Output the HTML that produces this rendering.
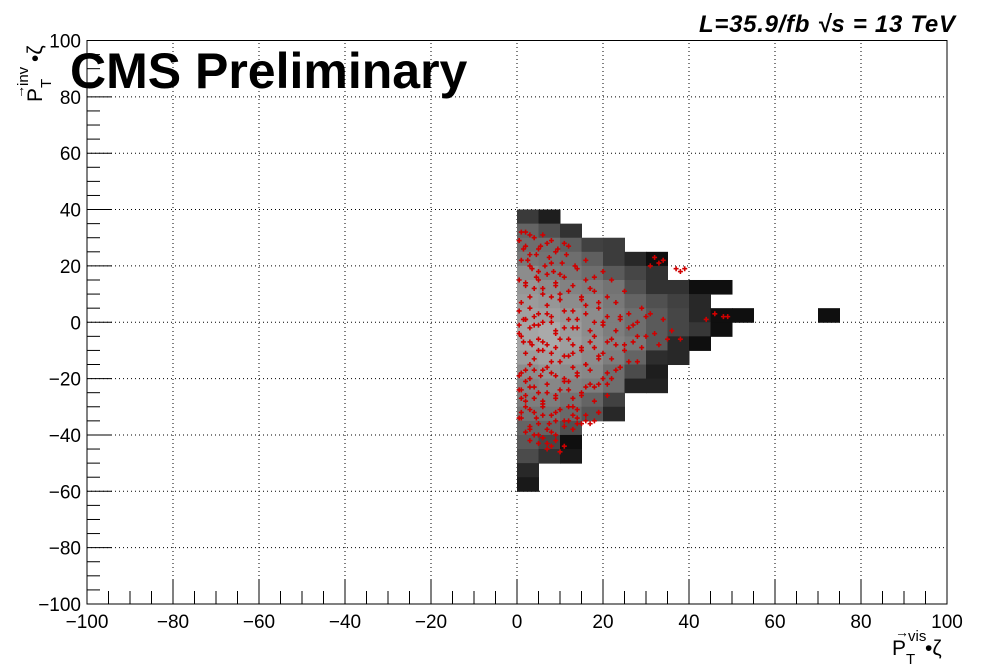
<!DOCTYPE html>
<html><head><meta charset="utf-8">
<style>
html,body{margin:0;padding:0;background:#fff;}
svg{display:block;font-family:"Liberation Sans",sans-serif;}
</style></head>
<body>
<svg id="chart" width="996" height="672" viewBox="0 0 996 672" xmlns="http://www.w3.org/2000/svg">
<rect width="996" height="672" fill="#fff"/>
<g id="grid"></g>
<g id="cells"></g>
<g id="pts"></g>
<rect x="87" y="40.5" width="860" height="563.5" fill="none" stroke="#000" stroke-width="1"/>
<g id="axes"></g>
<text x="70" y="88" font-size="50" font-weight="bold">CMS Preliminary</text>
<text x="955" y="32" text-anchor="end" font-size="24" font-weight="bold" font-style="italic" textLength="256">L=35.9/fb  √s = 13 TeV</text>
<g font-size="21">
<text x="892" y="655">P</text><text x="906" y="664" font-size="15">T</text><text x="908" y="641" font-size="15">vis</text>
<text x="895" y="637" font-size="14">→</text><text x="925" y="655">•ζ</text>
</g>
<g font-size="21" transform="translate(42,102) rotate(-90)">
<text x="0" y="0">P</text><text x="14" y="9" font-size="15">T</text><text x="16" y="-14" font-size="15">inv</text>
<text x="3" y="-18" font-size="14">→</text><text x="40" y="0">•ζ</text>
</g>
</svg>
<script>
const xCats=[0,5,10,15,20,25,30,35,40,45,50];
const yRows=[35,30,25,20,15,10,5,0,-5,-10,-15,-20,-25,-30,-35,-40,-45,-50,-55,-60];
const cellValues=[
[58,30],
[100,80,50],
[110,110,95,65,60],
[120,115,110,95,60,40,15],
[140,125,120,110,90,70,50],
[150,140,130,125,115,80,50,50,15,15],
[155,150,140,135,120,100,80,65,40],
[160,158,150,140,125,110,90,70,40,15,15],
[165,170,155,140,125,110,90,70,55,15],
[165,170,158,145,130,120,90,40,15],
[155,160,152,140,125,100,45,40],
[140,148,140,135,110,75,30],
[130,135,130,125,110,35,35],
[125,125,115,100,65],
[115,115,105,85,40],
[100,100,80],
[90,70,15],
[75,50,25],
[40],
[25]
];
const extraCells=[[70,0,15]];
const ptX=[1,2,3,4,6,8,2,3,5,7,9,11,12,1,3,5,8,10,14,16,18,20,2,4,6,9,12,15,17,22,25,1,3,5,7,10,13,16,19,23,26,29,2,4,6,8,11,14,17,20,24,27,31,34,1,3,5,7,9,12,15,18,21,25,28,32,36,38,2,4,6,8,11,13,16,19,22,24,28,1,3,6,9,12,14,17,20,23,1,2,4,7,9,12,15,18,21,2,4,6,8,10,13,16,19,1,3,5,7,9,11,14,3,5,6,7,8,9,10,1,2,4,6,12,14,15,16,32,33,34,31,37,38,39,44,46,48,49,8,10,5,13,
0.5,1.5,2.5,3.5,4.5,5.5,6.5,7.5,8.5,9.5,10.5,11.5,13.5,0.5,2,3,4.5,6,7,9,10,11,13,15,16,18,19,21,0.5,1.5,3,4,5,7,8,9,11,12,14,16,18,20,21,23,24,26,28,30,0.5,2,3.5,5,6,8,9,10,12,13,15,17,18,20,22,23,25,27,29,30,33,35,0.5,1.5,3,4,5.5,7,8,10,11,13,14,16,17,19,21,22,24,26,0.5,2,3,5,6,7,9,10,11,13,15,16,18,19,21,0.5,2,3,4.5,6,7.5,9,11,12,13,14,0.5,1,2,3,4,5,6,7,8,9,11,13,17,18,19];
const ptY=[32,32,31,30,31,29,27,24,26,28,25,28,27,22,20,18,21,17,19,22,16,18,14,12,10,13,11,9,12,15,11,7,5,3,6,8,4,6,5,7,3,5,1,-1,0,2,-2,1,-3,0,2,-1,3,1,-5,-7,-6,-8,-4,-6,-9,-5,-7,-8,-5,-4,-3,-6,-11,-13,-10,-14,-12,-11,-15,-12,-13,-16,-14,-18,-20,-17,-19,-21,-18,-22,-20,-17,-24,-26,-23,-25,-27,-24,-26,-23,-22,-30,-32,-29,-33,-31,-30,-33,-32,-34,-37,-36,-38,-35,-37,-36,-42,-40,-41,-43,-44,-40,-46,-27,-28,-27,-30,-35,-34,-36,-35,23,21,22,20,19,18,19,1,3,2,2,9,8,15,-2,
29,26,22,19,24,27,20,23,18,26,21,24,20,15,13,9,16,12,17,14,10,16,13,8,15,11,7,9,4,1,-2,2,-1,3,0,-3,4,1,-2,3,0,-1,2,-3,1,-2,0,2,-1,1,-8,-10,-7,-11,-9,-6,-12,-8,-10,-7,-9,-11,-6,-8,-10,-7,-9,-5,-8,-6,-4,-7,-15,-17,-19,-16,-18,-14,-20,-16,-19,-15,-17,-13,-18,-20,-16,-14,-19,-17,-23,-25,-28,-22,-26,-24,-21,-27,-25,-23,-28,-22,-26,-24,-21,-31,-34,-33,-36,-32,-35,-30,-33,-31,-34,-32,-39,-38,-40,-43,-41,-45,-39,-42,-44,-38,-36,-35,-32,-34,-33];
const xTicks=[-100,-80,-60,-40,-20,0,20,40,60,80,100];
const yTicks=[-100,-80,-60,-40,-20,0,20,40,60,80,100];
const NS="http://www.w3.org/2000/svg";
const X0=87,X1=947,Y0=604,Y1=40.5;
function sx(v){return X0+(v+100)/200*(X1-X0);}
function sy(v){return Y0-(v+100)/200*(Y0-Y1);}
function mk(tag,attrs,parent){const e=document.createElementNS(NS,tag);for(const k in attrs)e.setAttribute(k,attrs[k]);parent.appendChild(e);return e;}
const grid=document.getElementById('grid'),cells=document.getElementById('cells'),pts=document.getElementById('pts'),axes=document.getElementById('axes');
xTicks.forEach(t=>{if(t>-100&&t<100){const l=mk('line',{x1:sx(t),x2:sx(t),y1:Y0,y2:Y1,stroke:'#000','stroke-dasharray':'1,3'},grid);

}});
yTicks.forEach(t=>{if(t>-100&&t<100){const l=mk('line',{x1:X0,x2:X1,y1:sy(t),y2:sy(t),stroke:'#000','stroke-dasharray':'1,3'},grid);

}});
const cw=sx(5)-sx(0),ch=sy(0)-sy(5);
function g(v){const c=Math.round(v);return 'rgb('+c+','+c+','+c+')';}
yRows.forEach((yv,r)=>{cellValues[r].forEach((v,c)=>{const e=mk('rect',{x:sx(xCats[c]),y:sy(yv+5),width:cw+0.5,height:ch+0.5,fill:g(v)},cells);

});});
extraCells.forEach(a=>{const e=mk('rect',{x:sx(a[0]),y:sy(a[1]+5),width:cw+0.5,height:ch+0.5,fill:g(a[2])},cells);

});
ptX.forEach((xv,i)=>{const cx=sx(xv),cy=sy(ptY[i]);
const p=mk('path',{d:`M${cx-2.5} ${cy}H${cx+2.5}M${cx} ${cy-2.5}V${cy+2.5}`,stroke:'#d00000','stroke-width':1.6},pts);

});
for(let t=-100;t<=100;t+=5){const maj=t%20===0;const L=maj?25:13;
const a=mk('line',{x1:sx(t),x2:sx(t),y1:Y0,y2:Y0-L,stroke:'#000'},axes);


const b=mk('line',{x1:X0,x2:X0+L,y1:sy(t),y2:sy(t),stroke:'#000'},axes);

}
xTicks.forEach(t=>{const e=mk('text',{x:sx(t),y:628,'text-anchor':'middle','font-size':19},axes);e.textContent=(t<0?'\u2212':'')+Math.abs(t);

});
yTicks.forEach(t=>{const e=mk('text',{x:81,y:sy(t)+7,'text-anchor':'end','font-size':19},axes);e.textContent=(t<0?'\u2212':'')+Math.abs(t);

});
</script>
</body></html>
